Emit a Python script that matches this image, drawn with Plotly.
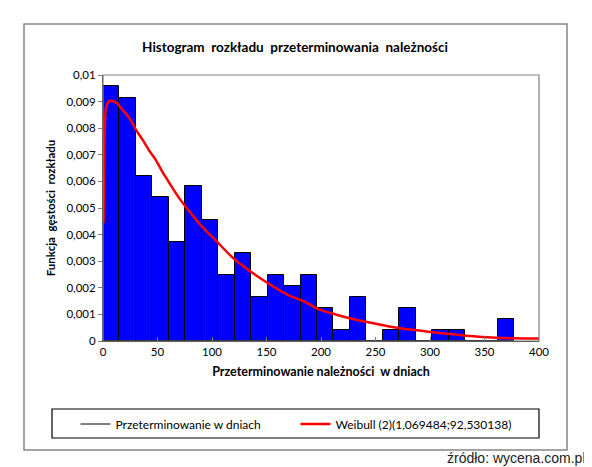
import plotly.graph_objects as go

# histogram: lewe krawedzie przedzialow (dni) i gestosc
bin_left = [0, 15.1, 30.2, 45.3, 60.4, 75.5, 90.6, 105.7, 120.8, 135.9, 151.0, 166.1,
            181.2, 196.3, 211.4, 226.5, 241.6, 256.7, 271.8, 286.9, 302.0, 317.1,
            332.2, 347.3, 362.4]
density = [0.00957, 0.00912, 0.00622, 0.00540, 0.00373, 0.00582, 0.00455, 0.00248,
           0.00331, 0.00166, 0.00248, 0.00207, 0.00248, 0.00124, 0.00040, 0.00166,
           0.0, 0.00040, 0.00124, 0.0, 0.00040, 0.00040, 0.0, 0.0, 0.00082]
bin_width = 15.1

# krzywa Weibulla
weib_x = [0.5, 1.5, 2.5, 4, 6.7, 12.2, 18.2, 24.3, 30.4, 36.4, 42.5, 48.5, 54.5, 60.6,
          69.7, 75.8, 90.9, 103, 121.2, 133.4, 151.5, 169.7, 184.8, 197, 215, 233,
          251.5, 269.7, 287.9, 306, 324, 342.4, 360.6, 378.8, 397, 400]
weib_y = [0.00444, 0.0078, 0.00868, 0.00893, 0.00903, 0.00896, 0.00868, 0.00837,
          0.00793, 0.00756, 0.00715, 0.00680, 0.00636, 0.00596, 0.00538, 0.00505,
          0.00430, 0.00380, 0.00305, 0.00267, 0.00217, 0.00173, 0.00148, 0.00121,
          0.00098, 0.00079, 0.00064, 0.00050, 0.00040, 0.00031, 0.00024, 0.00017,
          0.00012, 0.00010, 0.00009, 0.00009]

# strona ma 8 px marginesu, wiec wykres jest mniejszy i przesuniety
OFF = 8
W, H = 592 - OFF, 467 - OFF
L, R, T, B = 103 - OFF, 53, 75 - OFF, 126

def px_x(p):
    return (p - OFF - L) / (W - L - R)

def px_y(p):
    return (H - B - (p - OFF)) / (H - T - B)

fig = go.Figure()

fig.add_trace(go.Bar(
    x=bin_left, y=density, width=bin_width, offset=0,
    marker=dict(color="#0000FF", line=dict(color="black", width=1)),
    showlegend=False, name="Przeterminowanie w dniach",
))

# wpis legendy jak w Excelu (czarna linia)
fig.add_trace(go.Scatter(
    x=[None], y=[None], mode="lines", line=dict(color="black", width=1),
    name="Przeterminowanie w dniach",
))

fig.add_trace(go.Scatter(
    x=weib_x, y=weib_y, mode="lines", line=dict(color="#FF0000", width=2.5, shape="spline"),
    name="Weibull (2)(1,069484;92,530138)",
))

fig.update_layout(
    width=W, height=H,
    margin=dict(l=L, r=R, t=T, b=B),
    paper_bgcolor="white", plot_bgcolor="white",
    separators=", ",
    font=dict(family="Lato", size=11.5, color="black"),
    bargap=0,
    title=dict(text="<b>Histogram  rozkładu  przeterminowania  należności</b>",
               x=px_x(295), xref="paper", xanchor="center",
               y=1 - (47 - OFF) / H, yanchor="middle", font=dict(size=13.5)),
    legend=dict(orientation="h", x=px_x(295.5), y=px_y(424), xanchor="center",
                yanchor="middle", font=dict(size=12), entrywidth=175,
                bgcolor="rgba(0,0,0,0)"),
    shapes=[
        dict(type="rect", xref="paper", yref="paper",
             x0=px_x(24), x1=px_x(567), y0=px_y(450), y1=px_y(24),
             line=dict(color="#868686", width=1.5), layer="below"),
        dict(type="rect", xref="paper", yref="paper",
             x0=px_x(52), x1=px_x(539), y0=px_y(438), y1=px_y(409),
             line=dict(color="black", width=1.2)),
        dict(type="rect", xref="paper", yref="paper", x0=0, x1=1, y0=0, y1=1,
             line=dict(color="#808080", width=1.2)),
    ],
    annotations=[
        dict(text="źródło: wycena.com.pl", xref="paper", yref="paper",
             x=px_x(588), y=px_y(458), xanchor="right", yanchor="middle",
             showarrow=False, font=dict(family="Liberation Sans", size=14, color="#222")),
    ],
)

fig.update_xaxes(
    range=[0, 400], tickvals=[0, 50, 100, 150, 200, 250, 300, 350, 400],
    ticks="inside", ticklen=4, tickcolor="#808080", showgrid=False, zeroline=False,
    showline=True, linecolor="#404040", linewidth=1,
    title=dict(text="<b>Przeterminowanie należności  w dniach</b>", font=dict(size=12.5),
               standoff=10),
)
fig.update_yaxes(
    range=[0, 0.01], dtick=0.001, tickformat="~g",
    ticks="outside", ticklen=4, tickcolor="#808080", showgrid=False, zeroline=False,
    showline=True, linecolor="#404040", linewidth=1,
    title=dict(text="<b>Funkcja  gęstości  rozkładu</b>", font=dict(size=11.5), standoff=8),
)

fig.write_html("out.html")
